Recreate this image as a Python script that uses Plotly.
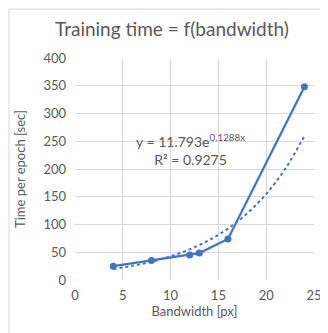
import plotly.graph_objects as go

bandwidth = [4, 8, 12, 13, 16, 24]
time_per_epoch = [25, 35, 45, 48.5, 74, 348]

trend_x = [4, 6, 8, 10, 12, 14, 16, 18, 20, 22, 24]
trend_y = [19.7, 25.5, 33.0, 42.8, 55.3, 71.6, 92.6, 119.8, 155.0, 200.6, 259.5]

x_ticks = [0, 5, 10, 15, 20, 25]
y_ticks = [0, 50, 100, 150, 200, 250, 300, 350, 400]

title_text = "Training time = f(bandwidth)"
eq_text = "y = 11.793e<sup>0.1288x</sup><br>R² = 0.9275"

FONT = "Lato"
GREY = "#595959"
BLUE = "#4472C4"

fig = go.Figure()
fig.add_trace(go.Scatter(
    x=trend_x, y=trend_y, mode="lines", line=dict(color=BLUE, width=2, dash="dot", shape="spline"),
    hoverinfo="skip", showlegend=False))
fig.add_trace(go.Scatter(
    x=bandwidth, y=time_per_epoch, mode="lines+markers",
    line=dict(color=BLUE, width=2.25), marker=dict(color=BLUE, size=7),
    showlegend=False))

fig.update_layout(
    width=328, height=333,
    margin=dict(l=67, r=22, t=50, b=61),
    paper_bgcolor="white", plot_bgcolor="white",
    font=dict(family=FONT, color=GREY, size=13),
    title=dict(text=title_text, x=0.5, xanchor="center", y=0.935, yanchor="middle",
               font=dict(family=FONT, size=19, color=GREY)),
    xaxis=dict(range=[0, 25], tickvals=x_ticks, showgrid=True, gridcolor="#d9d9d9", gridwidth=1,
               zeroline=False, showline=False, ticks="", tickfont=dict(size=13, color=GREY),
               ticklabelstandoff=6,
               title=dict(text="Bandwidth [px]", font=dict(size=13, color=GREY), standoff=2)),
    yaxis=dict(range=[0, 400], tickvals=y_ticks, showgrid=True, gridcolor="#d9d9d9", gridwidth=1,
               zeroline=False, showline=False, ticks="", tickfont=dict(size=13, color=GREY),
               ticklabelstandoff=8,
               title=dict(text="Time per epoch [sec]", font=dict(size=13, color=GREY), standoff=14)),
    shapes=[dict(type="rect", xref="paper", yref="paper", x0=-66/239, x1=1+21/239,
                 y0=-59/222.5, y1=1+49/222.5, line=dict(color="#d9d9d9", width=1))],
    annotations=[dict(text=eq_text, x=12.1, y=235, xref="x", yref="y", showarrow=False,
                      font=dict(family=FONT, size=14, color=GREY), align="center")],
)

fig.write_html("out.html")
